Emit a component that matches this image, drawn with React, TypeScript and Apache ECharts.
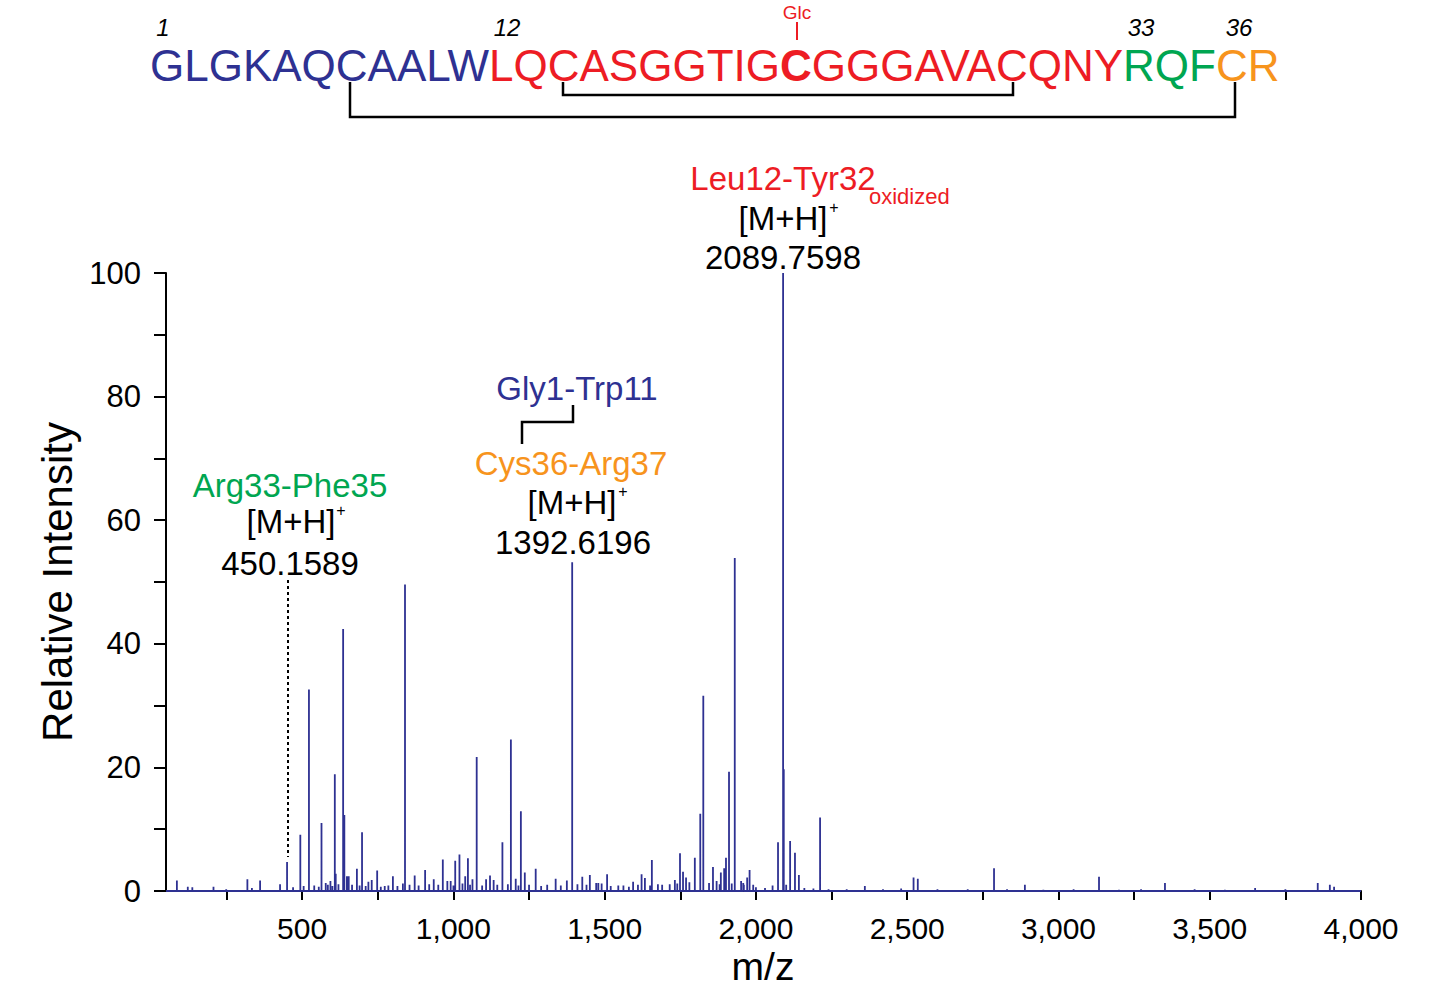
import React, { useEffect, useRef } from "react";
import * as echarts from "echarts";

// ---- data ----
const peakMz = [86, 122, 137, 207, 249, 319, 334, 361, 427, 450.16, 494, 522.5, 564, 578, 593.5, 608, 611, 635.5, 639.5, 648, 654, 681, 698, 719, 730, 748, 773, 800, 833, 840, 872, 906.5, 935, 965, 980, 991, 1006, 1020, 1039, 1048, 1063, 1077, 1108, 1121, 1133, 1162, 1190, 1206, 1223, 1236, 1272, 1338, 1375, 1392.62, 1426, 1451, 1472, 1479, 1508, 1562, 1594, 1622, 1633, 1656, 1676, 1732, 1749, 1759, 1769, 1798, 1816, 1826, 1858, 1870, 1884, 1895, 1901, 1911, 1930, 1951, 1958, 1971, 1979, 1991, 2073, 2089.76, 2092, 2113, 2129, 2142, 2212, 2360, 2521, 2535, 2787, 2889, 3134, 3273, 3352, 3650, 3857, 3897, 3911];
const peakIntensity = [1.7, 0.7, 0.6, 0.7, 0.3, 1.9, 0.5, 1.7, 1.1, 4.7, 9.1, 32.6, 11.0, 1.3, 1.6, 18.9, 2.8, 42.4, 12.3, 2.4, 2.4, 3.6, 9.5, 1.5, 1.8, 3.3, 0.8, 2.4, 1.2, 49.6, 2.5, 3.4, 1.9, 5.1, 1.6, 1.6, 4.9, 5.9, 2.4, 5.3, 1.9, 21.7, 1.9, 2.5, 1.8, 7.9, 24.5, 2.0, 12.9, 3.0, 3.6, 2.0, 1.7, 53.2, 2.3, 2.6, 1.3, 1.3, 2.7, 0.9, 1.5, 2.7, 2.1, 5.0, 1.1, 1.8, 6.1, 3.1, 2.2, 5.4, 12.5, 31.6, 3.9, 1.6, 3.0, 3.7, 5.4, 19.3, 53.9, 1.6, 1.3, 2.2, 3.4, 1.0, 7.9, 100, 19.7, 8.1, 6.2, 2.6, 11.9, 0.8, 2.2, 2.0, 3.7, 1.0, 2.3, 0.3, 1.3, 0.5, 1.3, 1.0, 0.7];
const noiseMz = [470, 505, 540, 555, 585, 600, 620, 665, 690, 710, 760, 785, 815, 855, 885, 920, 950, 1000, 1030, 1055, 1095, 1145, 1180, 1215, 1250, 1290, 1310, 1355, 1410, 1440, 1490, 1520, 1545, 1580, 1610, 1650, 1690, 1715, 1740, 1780, 1845, 1880, 1920, 1960, 2000, 2030, 2055, 2100, 2160, 2190, 2240, 2300, 2420, 2480, 2600, 2700, 2830, 2950, 3050, 3200, 3450, 3550, 3750];
const noiseIntensity = [0.6, 0.8, 0.9, 0.7, 1.0, 0.8, 1.1, 1.0, 0.9, 0.8, 0.7, 0.9, 0.8, 1.0, 0.9, 1.1, 1.0, 0.9, 1.2, 1.0, 0.9, 1.0, 1.1, 0.9, 1.0, 0.8, 1.0, 0.9, 1.1, 1.0, 1.2, 0.8, 0.9, 0.7, 1.0, 0.9, 1.0, 1.1, 1.2, 1.4, 1.3, 1.1, 1.2, 1.0, 0.6, 0.5, 0.9, 1.0, 0.5, 0.4, 0.3, 0.3, 0.3, 0.4, 0.3, 0.3, 0.3, 0.2, 0.3, 0.2, 0.3, 0.2, 0.3];

const xTickValues = [250, 500, 750, 1000, 1250, 1500, 1750, 2000, 2250, 2500, 2750, 3000, 3250, 3500, 3750, 4000];
const xLabelValues = [500, 1000, 1500, 2000, 2500, 3000, 3500, 4000];
const xAxisTitle = "m/z";
const yAxisTitle = "Relative Intensity";

const sequenceParts = [
  { text: "GLGKAQCAALW", style: "b" },
  { text: "LQCASGGTIG", style: "r" },
  { text: "C", style: "rb" },
  { text: "GGGAVACQNY", style: "r" },
  { text: "RQF", style: "g" },
  { text: "CR", style: "o" },
];

const BLUE = "#2e3192";
const RED = "#ed1c24";
const GREEN = "#00a651";
const ORANGE = "#f7941d";
const FONT = "'Liberation Sans', Arial, Helvetica, sans-serif";

export default function App() {
  const ref = useRef<HTMLDivElement>(null);
  useEffect(() => {
    if (!ref.current) return;
    const chart = echarts.init(ref.current, undefined, { renderer: "svg" });

    const all: [number, number][] = [];
    peakMz.forEach((m, i) => all.push([m, peakIntensity[i]]));
    noiseMz.forEach((m, i) => all.push([m, noiseIntensity[i]]));
    all.sort((a, b) => a[0] - b[0]);
    const stickData: [number, number][] = [[50, 0]];
    all.forEach(([m, h]) => {
      stickData.push([m, 0], [m, h], [m, 0]);
    });
    stickData.push([4000, 0]);

    const txt = (x: number, y: number, text: string, color: string, fontSize: number, extra: any = {}) => ({
      type: "text",
      x,
      y,
      silent: true,
      style: {
        text,
        fill: color,
        fontSize,
        fontFamily: FONT,
        textAlign: "center",
        textVerticalAlign: "middle",
        ...extra,
      },
    });

    const seqText = sequenceParts.map((p) => `{${p.style}|${p.text}}`).join("");
    const seqFont = 44;
    const AF = 33; // annotation font size

    chart.setOption({
      animation: false,
      textStyle: { fontFamily: FONT },
      grid: { left: 166, right: 69, top: 273, bottom: 95, outerBoundsMode: "none" },
      xAxis: {
        type: "value",
        min: 50,
        max: 4000,
        axisLine: { show: true, onZero: false, lineStyle: { color: "#000", width: 2 } },
        axisTick: { show: true, inside: false, length: 9, lineStyle: { color: "#000", width: 2 }, customValues: xTickValues },
        axisLabel: {
          show: true,
          customValues: xLabelValues,
          margin: 23,
          fontSize: 30,
          lineHeight: 28,
          color: "#000",
          formatter: (v: number) => v.toLocaleString("en-US"),
        },
        splitLine: { show: false },
      },
      yAxis: {
        type: "value",
        min: 0,
        max: 100,
        interval: 10,
        name: yAxisTitle,
        nameLocation: "middle",
        nameGap: 87,
        nameTextStyle: { fontSize: 42, color: "#000", fontFamily: FONT },
        axisLine: { show: true, onZero: false, lineStyle: { color: "#000", width: 2 } },
        axisTick: { show: true, inside: false, length: 12, lineStyle: { color: "#000", width: 2 } },
        axisLabel: {
          margin: 25,
          fontSize: 31,
          color: "#000",
          formatter: (v: number) => (v % 20 === 0 ? String(v) : ""),
        },
        splitLine: { show: false },
      },
      series: [
        {
          type: "line",
          data: stickData,
          showSymbol: false,
          symbol: "none",
          silent: true,
          lineStyle: { color: BLUE, width: 1.8 },
          z: 1,
        },
      ],
      graphic: [
        // x axis title
        txt(763, 966, xAxisTitle, "#000", 39, { lineHeight: 30 }),
        // sequence
        {
          type: "text",
          x: 150,
          y: 65,
          silent: true,
          style: {
            text: seqText,
            textAlign: "left",
            textVerticalAlign: "middle",
            fontSize: seqFont,
            fontFamily: FONT,
            lineHeight: 38,
            rich: {
              b: { fill: BLUE, fontSize: seqFont, fontFamily: FONT, lineHeight: 38 },
              r: { fill: RED, fontSize: seqFont, fontFamily: FONT, lineHeight: 38 },
              rb: { fill: RED, fontSize: seqFont, fontFamily: FONT, fontWeight: "bold", lineHeight: 38 },
              g: { fill: GREEN, fontSize: seqFont, fontFamily: FONT, lineHeight: 38 },
              o: { fill: ORANGE, fontSize: seqFont, fontFamily: FONT, lineHeight: 38 },
            },
          },
        },
        txt(163, 27, "1", "#000", 24, { fontStyle: "italic", lineHeight: 22 }),
        txt(507, 27, "12", "#000", 24, { fontStyle: "italic", lineHeight: 22 }),
        txt(1141, 27, "33", "#000", 24, { fontStyle: "italic", lineHeight: 22 }),
        txt(1239, 27, "36", "#000", 24, { fontStyle: "italic", lineHeight: 22 }),
        txt(797, 12, "Glc", RED, 19),
        { type: "line", silent: true, shape: { x1: 797, y1: 22, x2: 797, y2: 40 }, style: { stroke: RED, lineWidth: 2 } },
        // disulfide brackets
        { type: "polyline", silent: true, shape: { points: [[350, 82], [350, 117], [1235, 117], [1235, 82]] }, style: { stroke: "#000", lineWidth: 2.5, fill: null } },
        { type: "polyline", silent: true, shape: { points: [[563, 82], [563, 95], [1013, 95], [1013, 82]] }, style: { stroke: "#000", lineWidth: 2.5, fill: null } },
        // 2089 annotation
        txt(783, 178, "Leu12-Tyr32", RED, AF),
        txt(869, 196, "oxidized", RED, 22, { textAlign: "left" }),
        txt(783, 218, "[M+H]", "#000", AF),
        txt(834, 207, "+", "#000", 16),
        txt(783, 257, "2089.7598", "#000", AF),
        // 1392 annotation
        txt(577, 388, "Gly1-Trp11", BLUE, AF),
        { type: "polyline", silent: true, shape: { points: [[573, 405], [573, 422], [522, 422], [522, 444]] }, style: { stroke: "#000", lineWidth: 2.5, fill: null } },
        txt(571, 463, "Cys36-Arg37", ORANGE, AF),
        txt(572, 502, "[M+H]", "#000", AF),
        txt(623, 491, "+", "#000", 16),
        txt(573, 542, "1392.6196", "#000", AF),
        // 450 annotation
        txt(290, 485, "Arg33-Phe35", GREEN, AF),
        txt(291, 521, "[M+H]", "#000", AF),
        txt(341, 510, "+", "#000", 16),
        txt(290, 563, "450.1589", "#000", AF),
        { type: "line", silent: true, shape: { x1: 288, y1: 580, x2: 288, y2: 857 }, style: { stroke: "#000", lineWidth: 2, lineDash: [3, 3] } },
      ],
    });
    return () => chart.dispose();
  }, []);
  return (
    <div
      ref={ref}
      style={{ position: "fixed", left: 0, top: 0, width: 1430, height: 986, background: "#fff" }}
    />
  );
}
